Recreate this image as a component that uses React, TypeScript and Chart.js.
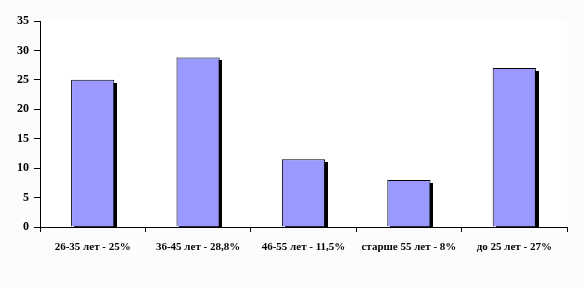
import React, { useEffect, useRef } from "react";
import { Chart, registerables } from "chart.js";

Chart.register(...registerables);

const categories = [
  "26-35 лет - 25%",
  "36-45 лет - 28,8%",
  "46-55 лет - 11,5%",
  "старше 55 лет - 8%",
  "до 25 лет - 27%",
];
const values = [25, 28.8, 11.5, 8, 27];
const yMin = 0;
const yMax = 35;
const yStep = 5;

const XFONT = { family: "'Liberation Serif', 'Times New Roman', serif", size: 11, weight: "bold" as const };
const YFONT = { family: "'Liberation Serif', 'Times New Roman', serif", size: 12, weight: "bold" as const };

const shadowPlugin = {
  id: "barShadow",
  beforeDatasetsDraw(chart: any) {
    const { ctx, chartArea } = chart;
    const meta = chart.getDatasetMeta(0);
    ctx.save();
    ctx.beginPath();
    ctx.rect(chartArea.left, chartArea.top - 5, chartArea.right - chartArea.left + 5, chartArea.bottom - chartArea.top + 5);
    ctx.clip();
    ctx.fillStyle = "#000000";
    meta.data.forEach((bar: any) => {
      const left = bar.x - bar.width / 2;
      ctx.fillRect(Math.round(left) + 3, Math.round(bar.y) + 3, Math.round(bar.width), bar.base - bar.y);
    });
    ctx.restore();
  },
};

const bgPlugin = {
  id: "bg",
  beforeDraw(chart: any) {
    const { ctx, chartArea, width, height } = chart;
    ctx.save();
    ctx.fillStyle = "#fcfcfc";
    ctx.fillRect(0, 0, width, height);
    ctx.fillStyle = "#ffffff";
    ctx.fillRect(chartArea.left, chartArea.top, chartArea.right - chartArea.left, chartArea.bottom - chartArea.top);
    ctx.restore();
  },
};

export default function App() {
  const ref = useRef<HTMLCanvasElement>(null);
  useEffect(() => {
    document.body.style.margin = "0";
    const chart = new Chart(ref.current!, {
      type: "bar",
      data: {
        labels: categories,
        datasets: [
          {
            data: values,
            backgroundColor: "#9999ff",
            borderColor: "#000000",
            borderWidth: 1,
            barPercentage: 0.41,
            categoryPercentage: 1,
          },
        ],
      },
      options: {
        animation: false,
        responsive: false,
        maintainAspectRatio: false,
        layout: { padding: { top: 21, right: 17, left: 0, bottom: 0 } },
        plugins: { legend: { display: false }, tooltip: { enabled: false } },
        scales: {
          x: {
            grid: { display: true, drawOnChartArea: false, drawTicks: true, tickLength: 5, color: "#000", offset: true },
            border: { display: true, color: "#000", width: 1 },
            ticks: { color: "#000", font: XFONT, padding: 9, maxRotation: 0, autoSkip: false },
            afterFit(scale: any) {
              scale.height = 60;
            },
          },
          y: {
            min: yMin,
            max: yMax,
            grid: { display: true, drawOnChartArea: false, drawTicks: true, tickLength: 6, color: "#000" },
            border: { display: true, color: "#000", width: 1 },
            ticks: { color: "#000", font: YFONT, stepSize: yStep, padding: 5 },
            afterFit(scale: any) {
              scale.width = 40;
            },
          },
        },
      },
      plugins: [bgPlugin, shadowPlugin],
    });
    return () => chart.destroy();
  }, []);
  return (
    <div style={{ position: "relative", width: 584, height: 287 }}>
      <canvas ref={ref} width={584} height={287} style={{ display: "block" }} />
    </div>
  );
}
